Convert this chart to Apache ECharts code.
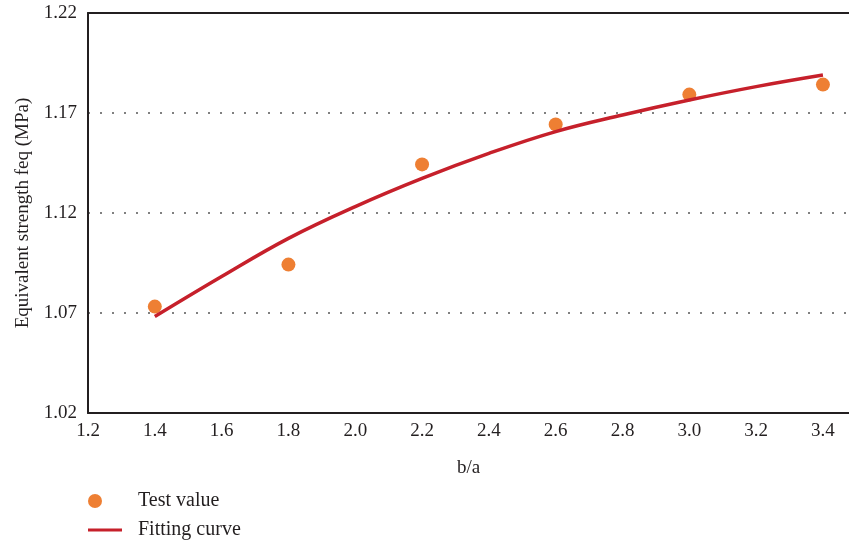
<!DOCTYPE html>
<html>
<head>
<meta charset="utf-8">
<style>
  html, body { margin: 0; padding: 0; background: #fff; }
  #chart { width: 849px; height: 546px; }
</style>
<script src="https://cdn.jsdelivr.net/npm/echarts@6/dist/echarts.min.js"></script>
</head>
<body>
<div id="chart"></div>
<script>
// Test measurements: equivalent strength against aspect ratio b/a
const ratioTest = [1.4, 1.8, 2.2, 2.6, 3.0, 3.4];
const strengthTest = [1.0732, 1.0942, 1.1443, 1.1643, 1.1792, 1.1842];

// Fitted curve sampled along b/a
const ratioFit = [1.4, 1.6, 1.8, 2.0, 2.2, 2.4, 2.6, 2.8, 3.0, 3.2, 3.4];
const strengthFit = [1.0682, 1.0882, 1.1073, 1.1232, 1.1373, 1.1498, 1.1607, 1.1690, 1.1765, 1.1832, 1.1890];

const yTicks = [1.02, 1.07, 1.12, 1.17, 1.22];

const FONT = 'Liberation Serif';
const INK = '#231f20';

const chart = echarts.init(document.getElementById('chart'), null, { renderer: 'canvas' });

chart.setOption({
  animation: false,
  backgroundColor: '#ffffff',
  textStyle: { fontFamily: FONT, color: INK },
  grid: { left: 88, right: 0, top: 13, bottom: 133, containLabel: false },
  legend: [
    {
      data: [{ name: 'Test value', icon: 'circle' }],
      left: 88, top: 491, padding: 0,
      itemWidth: 14, itemHeight: 14,
      itemStyle: { opacity: 1 },
      textStyle: { fontFamily: FONT, fontSize: 20, color: INK, padding: [6, 0, 0, 31] }
    },
    {
      data: [{ name: 'Fitting curve', icon: 'rect' }],
      left: 88, top: 520, padding: 0,
      itemWidth: 34, itemHeight: 3,
      textStyle: { fontFamily: FONT, fontSize: 20, color: INK, padding: [4, 0, 0, 11] }
    }
  ],
  xAxis: [
    {
      type: 'value',
      min: 1.2, max: 3.478, interval: 0.2,
      name: 'b/a', nameLocation: 'middle', nameGap: 46,
      nameTextStyle: { fontFamily: FONT, fontSize: 19, color: INK },
      axisLine: { show: true, onZero: false, lineStyle: { color: INK, width: 2 } },
      axisTick: { show: false },
      splitLine: { show: false },
      axisLabel: {
        fontFamily: FONT, fontSize: 19, color: INK, margin: 9,
        showMaxLabel: false,
        formatter: v => v.toFixed(1)
      }
    },
    {
      type: 'value', position: 'top',
      min: 1.2, max: 3.478,
      axisLine: { show: true, onZero: false, lineStyle: { color: INK, width: 2 } },
      axisTick: { show: false }, axisLabel: { show: false }, splitLine: { show: false }
    }
  ],
  yAxis: {
    type: 'value',
    min: yTicks[0], max: yTicks[yTicks.length - 1], interval: 0.05,
    name: 'Equivalent strength feq (MPa)', nameLocation: 'middle', nameGap: 55,
    nameTextStyle: { fontFamily: FONT, fontSize: 19, color: INK },
    axisLine: { show: true, lineStyle: { color: INK, width: 2 } },
    axisTick: { show: false },
    axisLabel: {
      fontFamily: FONT, fontSize: 19, color: INK, margin: 11,
      formatter: v => v.toFixed(2)
    },
    splitLine: {
      show: true,
      showMinLine: false, showMaxLine: false,
      lineStyle: { color: '#808080', width: 2, type: [2, 10] }
    }
  },
  series: [
    {
      name: 'Test value',
      type: 'scatter',
      symbol: 'circle',
      symbolSize: 14,
      itemStyle: { color: '#ee7f33', opacity: 1 },
      data: ratioTest.map((x, i) => [x, strengthTest[i]]),
      z: 3
    },
    {
      name: 'Fitting curve',
      type: 'line',
      smooth: 0.4,
      symbol: 'none',
      itemStyle: { color: '#c6202b' },
      lineStyle: { color: '#c6202b', width: 3.5 },
      data: ratioFit.map((x, i) => [x, strengthFit[i]]),
      z: 4
    }
  ]
});
</script>
</body>
</html>
